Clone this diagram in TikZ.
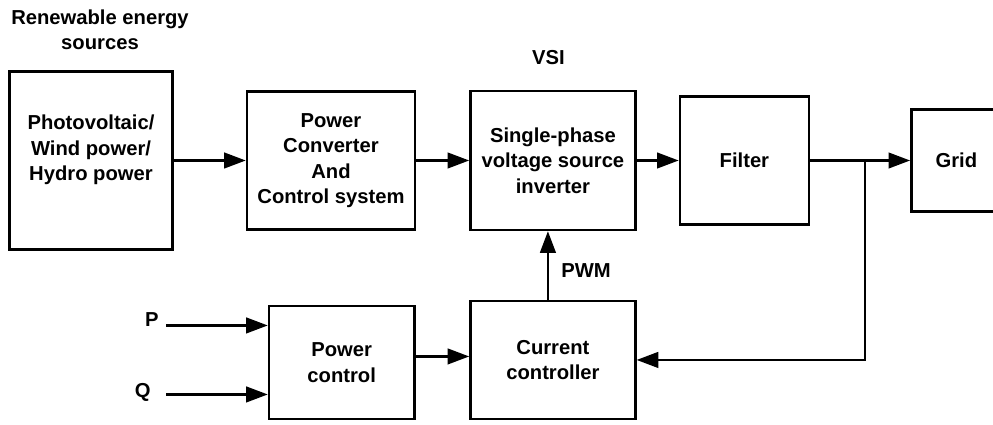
\documentclass[tikz,border=0pt]{standalone}
\usepackage{fontspec}
\setmainfont{Liberation Sans}
\usetikzlibrary{positioning, arrows.meta}
\tikzset{
    box_bloque/.style={rectangle, draw=black, line width=1.4pt, align=center, inner sep=2pt, font=\fontsize{11.5}{14.5}\selectfont\bfseries},
    box_texto/.style={align=center, font=\fontsize{11.5}{14.5}\selectfont\bfseries},
    flecha/.style={draw, line width=1.3pt, -{Triangle[length=12.3pt, width=8.9pt]}}
}

\begin{document}
\begin{tikzpicture}[node distance=1cm]

    \useasboundingbox (0,0) rectangle (19.86,-8.5);

    % 1. Fila superior
    \node[box_bloque, minimum width=3.26cm, minimum height=3.56cm] (fuentes) at (1.82,-3.21) {Photovoltaic/\\Wind power/\\Hydro power\\\mbox{}};
    \node[box_texto] (titulo) at (2.0,-0.6) {Renewable energy\\sources};

    \node[box_bloque, minimum width=3.36cm, minimum height=2.76cm, right=1.44cm of fuentes] (convertidor) {Power\\Converter\\And\\Control system};

    \node[box_bloque, minimum width=3.3cm, minimum height=2.78cm, right=1.06cm of convertidor] (vsi) {Single-phase\\voltage source\\inverter};
    \node[box_texto, above=0.38cm of vsi, xshift=-0.09cm] (etiqueta_vsi) {VSI};

    \node[box_bloque, minimum width=2.58cm, minimum height=2.56cm, right=0.84cm of vsi] (filtro) {Filter};

    % la caja de la red se sale por la derecha
    \node[box_bloque, minimum width=1.8cm, minimum height=2.04cm, right=2.0cm of filtro] (red) {Grid};

    % 2. Fila inferior
    \node[box_bloque, minimum width=3.3cm, minimum height=2.36cm, below=1.37cm of vsi] (controlador) {Current\\controller};
    \node[box_bloque, minimum width=2.91cm, minimum height=2.26cm, left=1.07cm of controlador, yshift=-0.05cm] (potencia) {Power\\control};

    % Entradas P y Q
    \coordinate (p_in) at ([xshift=-2.03cm, yshift=0.74cm]potencia.west);
    \coordinate (q_in) at ([xshift=-2.03cm, yshift=-0.64cm]potencia.west);
    \node[box_texto, left=0.03cm of p_in, yshift=0.12cm] (etiqueta_p) {P};
    \node[box_texto, left=0.19cm of q_in, yshift=0.05cm] (etiqueta_q) {Q};

    % --- CONEXIONES ---
    \draw[flecha] (fuentes) -- (convertidor);
    \draw[flecha] (convertidor) -- (vsi);
    \draw[flecha] (vsi) -- (filtro);
    \draw[flecha] (filtro) -- (red);

    % Realimentacion desde la salida del filtro
    \coordinate (union) at ([xshift=1.1cm]filtro.east);
    \draw[flecha] (union) |- (controlador.east);

    % PWM hacia el inversor
    \coordinate (pwm_sal) at ([xshift=-0.1cm]controlador.north);
    \draw[flecha] (pwm_sal) -- (pwm_sal |- vsi.south) node[box_texto, pos=0.42, right=0.13cm] (etiqueta_pwm) {PWM};

    \coordinate (pc_sal) at ([yshift=0.12cm]potencia.east);
    \draw[flecha] (pc_sal) -- (pc_sal -| controlador.west);

    \draw[flecha] (p_in) -- (p_in -| potencia.west);
    \draw[flecha] (q_in) -- (q_in -| potencia.west);

\end{tikzpicture}
\end{document}
